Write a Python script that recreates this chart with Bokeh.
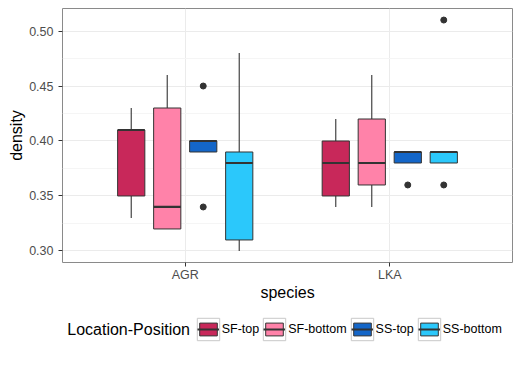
from bokeh.plotting import figure
from bokeh.layouts import column
from bokeh.models import (ColumnDataSource, Range1d, FixedTicker, NumeralTickFormatter,
                          Legend, LegendItem, Label)
from bokeh.embed import file_html
from bokeh.resources import INLINE

# ---- data ----
species = ["AGR", "LKA"]
groups = ["SF-top", "SF-bottom", "SS-top", "SS-bottom"]
colors = ["#C8285A", "#FF82A9", "#1466C8", "#2BC8FB"]

# five-number summaries, indexed [group][species]
wmin = [[0.33, 0.34], [0.32, 0.34], [0.39, 0.38], [0.30, 0.38]]
q1 = [[0.35, 0.35], [0.32, 0.36], [0.39, 0.38], [0.31, 0.38]]
med = [[0.41, 0.38], [0.34, 0.38], [0.40, 0.39], [0.38, 0.39]]
q3 = [[0.41, 0.40], [0.43, 0.42], [0.40, 0.39], [0.39, 0.39]]
wmax = [[0.43, 0.42], [0.46, 0.46], [0.40, 0.39], [0.48, 0.39]]
# outliers: (group, species, value)
out_group = ["SS-top", "SS-top", "SS-top", "SS-bottom", "SS-bottom"]
out_species = ["AGR", "AGR", "LKA", "LKA", "LKA"]
out_value = [0.45, 0.34, 0.36, 0.36, 0.51]

y_ticks = [0.30, 0.35, 0.40, 0.45, 0.50]
y_minor = [0.325, 0.375, 0.425, 0.475]

DODGE = 0.176
BOXW = 0.133
INK = "#333333"
FONT = "Liberation Sans"
FRAME_L = 62

p = figure(width=520, height=310, output_backend="svg", toolbar_location=None,
           x_range=Range1d(0.4, 2.6), y_range=Range1d(0.2895, 0.5205),
           min_border_left=FRAME_L, min_border_right=8, min_border_top=8, min_border_bottom=48)

p.outline_line_color = "#8A8A8A"
p.outline_line_width = 1
p.background_fill_color = "white"

# legend strip (its frame shows none of the data; it only hosts the legend)
leg = figure(width=520, height=55, output_backend="svg", toolbar_location=None,
             x_range=Range1d(100, 101), y_range=Range1d(100, 101),
             x_axis_location=None, y_axis_location=None,
             min_border=0, min_border_left=0, min_border_right=0,
             min_border_top=0, min_border_bottom=0)
leg.grid.visible = False
leg.outline_line_color = None

key_items, box_items = [], []
for gi, g in enumerate(groups):
    off = (gi - 1.5) * DODGE
    xs = [si + 1 + off for si in range(len(species))]
    src = ColumnDataSource(dict(
        x=xs, x0=[x - BOXW / 2 for x in xs], x1=[x + BOXW / 2 for x in xs],
        lo=wmin[gi], q1=q1[gi], med=med[gi], q3=q3[gi], hi=wmax[gi]))
    p.segment(x0="x", y0="q3", x1="x", y1="hi", source=src, line_color=INK, line_width=1.1)
    p.segment(x0="x", y0="q1", x1="x", y1="lo", source=src, line_color=INK, line_width=1.1)
    p.vbar(x="x", width=BOXW, bottom="q1", top="q3", source=src,
           fill_color=colors[gi], line_color=INK, line_width=1)
    p.segment(x0="x0", y0="med", x1="x1", y1="med", source=src,
              line_color=INK, line_width=2.2)

    kr = leg.vbar(x="x", width=BOXW, bottom="q1", top="q3", source=src,
                  fill_color="white", line_color="#C8C8C8", line_width=1)
    br = leg.vbar(x="x", width=BOXW, bottom="q1", top="q3", source=src,
                  fill_color=colors[gi], line_color=INK, line_width=1)
    mr = leg.segment(x0="x0", y0="med", x1="x1", y1="med", source=src,
                     line_color=INK, line_width=2)
    key_items.append(LegendItem(label=g, renderers=[kr]))
    box_items.append(LegendItem(label=g, renderers=[br, mr]))

ox = [species.index(s) + 1 + (groups.index(g) - 1.5) * DODGE
      for g, s in zip(out_group, out_species)]
p.scatter(ox, out_value, size=6, color=INK)

# axes
p.xaxis.ticker = FixedTicker(ticks=[1, 2])
p.xaxis.major_label_overrides = {1: species[0], 2: species[1]}
p.yaxis.ticker = FixedTicker(ticks=y_ticks, minor_ticks=y_minor)
p.yaxis.formatter = NumeralTickFormatter(format="0.00")
p.xaxis.axis_label = "species"
p.yaxis.axis_label = "density"
for ax in (p.xaxis[0], p.yaxis[0]):
    ax.axis_line_color = None
    ax.major_tick_line_color = INK
    ax.major_tick_in = 0
    ax.major_tick_out = 4
    ax.minor_tick_line_color = None
    ax.major_label_text_color = "#4D4D4D"
    ax.major_label_text_font = FONT
    ax.major_label_text_font_size = "12.5px"
    ax.axis_label_text_font = FONT
    ax.axis_label_text_font_size = "16px"
    ax.axis_label_text_font_style = "normal"
    ax.axis_label_text_color = "black"
p.yaxis.axis_label_standoff = 1
p.xaxis.axis_label_standoff = -1
p.xaxis.major_label_standoff = 1
p.yaxis.major_label_standoff = 5

# grids
p.xgrid.grid_line_color = "#EBEBEB"
p.ygrid.grid_line_color = "#EBEBEB"
p.ygrid.minor_grid_line_color = "#F5F5F5"

# the column aligns the strip's frame with the main frame (left edge at FRAME_L)
CY = 35.7              # legend centre, px above strip bottom
XB = 196.7 - FRAME_L   # start of first coloured key, relative to frame

keys = Legend(items=key_items, orientation="horizontal", location=(XB - 3, CY - 14),
              glyph_width=28, glyph_height=28, label_height=28, label_standoff=0,
              spacing=1, padding=0, margin=0, border_line_color=None,
              background_fill_alpha=0, label_text_alpha=0,
              label_text_font=FONT, label_text_font_size="12.5px")
boxes = Legend(items=box_items, orientation="horizontal", location=(XB, CY - 8),
               glyph_width=22, glyph_height=16, label_height=16, label_standoff=3,
               spacing=4, padding=0, margin=0, border_line_color=None,
               background_fill_alpha=0, label_text_color="black",
               label_text_font=FONT, label_text_font_size="12.5px")
leg.add_layout(keys)
leg.add_layout(boxes)
leg.add_layout(Label(x=189.5 - FRAME_L, y=CY, x_units="screen", y_units="screen",
                     text="Location-Position", text_font=FONT,
                     text_font_size="16px", text_color="black",
                     text_baseline="middle", text_align="right"))

layout = column(p, leg, spacing=0)
open("out.html", "w").write(file_html(layout, INLINE))
